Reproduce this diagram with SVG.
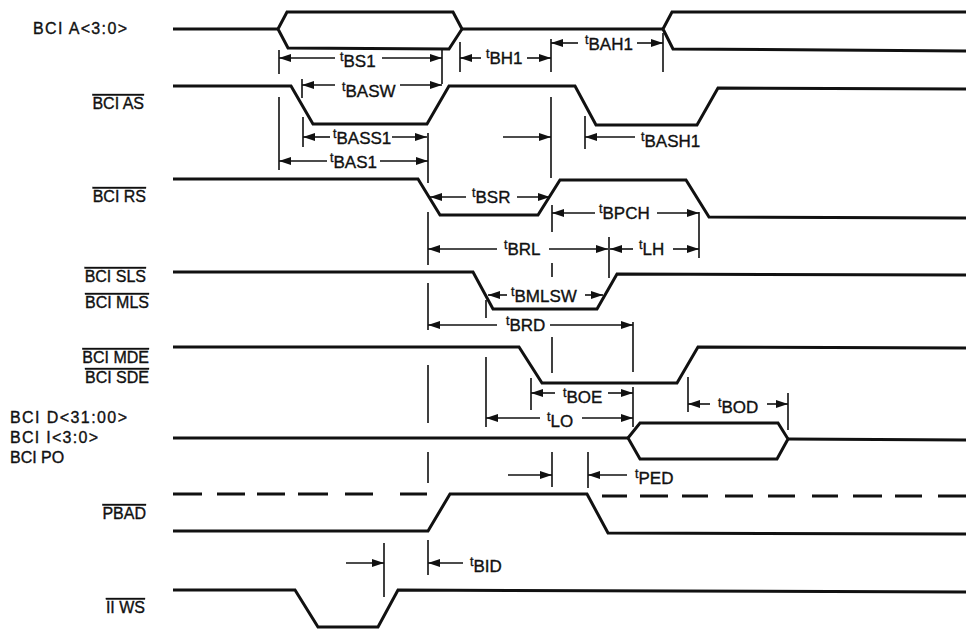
<svg xmlns="http://www.w3.org/2000/svg" width="966" height="629" viewBox="0 0 966 629">
<defs>
<style>
.sig{fill:none;stroke:#111;stroke-width:3;stroke-linejoin:miter}
.tk{stroke:#111;stroke-width:1.6;fill:none}
.dm{stroke:#111;stroke-width:1.6;fill:none;marker-end:url(#ah)}
.lbl{font-family:"Liberation Sans",Arial,sans-serif;font-size:16px;fill:#111;stroke:#111;stroke-width:0.35}
.ov{text-decoration:overline}
.tl{font-family:"Liberation Sans",Arial,sans-serif;font-size:17px;fill:#111;stroke:#111;stroke-width:0.35}
.t{font-size:12.5px}
</style>
<marker id="ah" viewBox="0 0 12 8" refX="12" refY="4" markerWidth="12" markerHeight="8" orient="auto" markerUnits="userSpaceOnUse">
<path d="M0,0 L12,4 L0,8 Z" fill="#111"/>
</marker>
</defs>
<rect width="966" height="629" fill="#fff"/>

<g id="sig-bci-a">
<text class="lbl" x="33" y="34" textLength="94" lengthAdjust="spacing">BCI A&lt;3:0&gt;</text>
<path class="sig" d="M173,29 H278 M462,29 H663"/>
<path class="sig" d="M278,29 L287,12 H453 L462,29 L449,49 L288,48 Z"/>
<path class="sig" d="M663,29 L672,12 H966 M663,29 L673,49 L966,51"/>
</g>

<g id="sig-bci-as">
<text class="lbl ov" x="144" y="109" text-anchor="end">BCI AS</text>
<path class="sig" d="M173,86 H291 L313,124 H427 L449,86 H575 L596,125 H697 L718,88 L966,89"/>
</g>

<g id="sig-bci-rs">
<text class="lbl ov" x="146" y="202" text-anchor="end">BCI RS</text>
<path class="sig" d="M173,179 H418 L440,215 H538 L560,180 H686 L709,217 L966,218"/>
</g>

<g id="sig-bci-sls">
<text class="lbl ov" x="146" y="282" text-anchor="end">BCI SLS</text>
<text class="lbl ov" x="149" y="308" text-anchor="end">BCI MLS</text>
<path class="sig" d="M173,272 H473 L493,309 H597 L617,274 L966,275"/>
</g>

<g id="sig-bci-mde">
<text class="lbl ov" x="149" y="363" text-anchor="end">BCI MDE</text>
<text class="lbl ov" x="149" y="383" text-anchor="end">BCI SDE</text>
<path class="sig" d="M173,347 H519 L542,383 H677 L698,347 L966,348"/>
</g>

<g id="sig-bci-d">
<text class="lbl" x="10" y="423" textLength="117" lengthAdjust="spacing">BCI D&lt;31:00&gt;</text>
<text class="lbl" x="10" y="443" textLength="88" lengthAdjust="spacing">BCI I&lt;3:0&gt;</text>
<text class="lbl" x="10" y="463">BCI PO</text>
<path class="sig" d="M173,438 H628 M788,439 L966,440"/>
<path class="sig" d="M628,438 L640,423 H778 L788,439 L777,459 H640 Z"/>
</g>

<g id="sig-pbad">
<text class="lbl ov" x="146" y="519" text-anchor="end">PBAD</text>
<path class="sig" d="M173,494 H202 M217,494 H245 M257,494 H285 M298,494 H328 M345,494 H373 M400,494 H427 M602,496 H627 M640,496 H668 M682,496 H708 M725,496 H753 M768,496 H795 M812,496 H838 M853,496 H882 M895,496 H922 M938,496 H966"/>
<path class="sig" d="M173,531 H428 L450,494 H587 L608,533 L966,534"/>
</g>

<g id="sig-ii-ws">
<text class="lbl ov" x="145" y="613" text-anchor="end">II WS</text>
<path class="sig" d="M173,590 H295 L318,627 H378 L398,590 L966,592"/>
</g>

<g id="connectors">
<path class="tk" d="M279,50 V74 M279,97 V170 M442,50 V84 M460,42 V72 M551,39 V72 M551,97 V178 M552,205 V232 M552,263 V277 M552,337 V373 M552,452 V487 M663,33 V72 M302,79 V98 M303,117 V147 M428,133 V183 M428,212 V265 M428,283 V330 M428,365 V423 M428,452 V483 M428,540 V575 M585,116 V149 M699,212 V258 M609,237 V278 M486,300 V318 M486,357 V427 M633,322 V372 M633,387 V427 M531,378 V410 M688,377 V412 M788,393 V430 M588,452 V488 M384,543 V597"/>
<path class="dm" d="M335,58 H279"/>
<path class="dm" d="M382,58 H442"/>
<path class="dm" d="M335,85 H302"/>
<path class="dm" d="M400,85 H442"/>
<path class="dm" d="M330,137 H303"/>
<path class="dm" d="M392,137 H427"/>
<path class="dm" d="M327,161 H279"/>
<path class="dm" d="M380,161 H428"/>
<path class="dm" d="M481,58 H460"/>
<path class="dm" d="M527,58 H551"/>
<path class="dm" d="M578,43 H551"/>
<path class="dm" d="M637,43 H663"/>
<path class="dm" d="M503,137 H551"/>
<path class="dm" d="M635,137 H585"/>
<path class="dm" d="M466,197 H430"/>
<path class="dm" d="M517,197 H550"/>
<path class="dm" d="M595,213 H552"/>
<path class="dm" d="M657,213 H699"/>
<path class="dm" d="M497,249 H428"/>
<path class="dm" d="M549,249 H608"/>
<path class="dm" d="M633,249 H610"/>
<path class="dm" d="M673,249 H699"/>
<path class="dm" d="M507,295 H488"/>
<path class="dm" d="M585,295 H603"/>
<path class="dm" d="M497,325 H428"/>
<path class="dm" d="M550,325 H633"/>
<path class="dm" d="M555,393 H531"/>
<path class="dm" d="M608,393 H633"/>
<path class="dm" d="M540,418 H486"/>
<path class="dm" d="M582,418 H633"/>
<path class="dm" d="M710,404 H688"/>
<path class="dm" d="M767,404 H788"/>
<path class="dm" d="M508,475 H552"/>
<path class="dm" d="M627,475 H588"/>
<path class="dm" d="M346,563 H384"/>
<path class="dm" d="M463,563 H428"/>
</g>

<g id="timing-labels">
<text class="tl" x="340" y="67"><tspan class="t" dy="-6">t</tspan><tspan dy="6">BS1</tspan></text>
<text class="tl" x="342" y="97"><tspan class="t" dy="-6">t</tspan><tspan dy="6">BASW</tspan></text>
<text class="tl" x="333" y="144"><tspan class="t" dy="-6">t</tspan><tspan dy="6">BASS1</tspan></text>
<text class="tl" x="330" y="168"><tspan class="t" dy="-6">t</tspan><tspan dy="6">BAS1</tspan></text>
<text class="tl" x="486" y="64"><tspan class="t" dy="-6">t</tspan><tspan dy="6">BH1</tspan></text>
<text class="tl" x="585" y="50"><tspan class="t" dy="-6">t</tspan><tspan dy="6">BAH1</tspan></text>
<text class="tl" x="641" y="147"><tspan class="t" dy="-6">t</tspan><tspan dy="6">BASH1</tspan></text>
<text class="tl" x="472" y="203"><tspan class="t" dy="-6">t</tspan><tspan dy="6">BSR</tspan></text>
<text class="tl" x="599" y="219"><tspan class="t" dy="-6">t</tspan><tspan dy="6">BPCH</tspan></text>
<text class="tl" x="504" y="255"><tspan class="t" dy="-6">t</tspan><tspan dy="6">BRL</tspan></text>
<text class="tl" x="639" y="255"><tspan class="t" dy="-6">t</tspan><tspan dy="6">LH</tspan></text>
<text class="tl" x="511" y="302"><tspan class="t" dy="-6">t</tspan><tspan dy="6">BMLSW</tspan></text>
<text class="tl" x="506" y="331"><tspan class="t" dy="-6">t</tspan><tspan dy="6">BRD</tspan></text>
<text class="tl" x="563" y="403"><tspan class="t" dy="-6">t</tspan><tspan dy="6">BOE</tspan></text>
<text class="tl" x="547" y="427"><tspan class="t" dy="-6">t</tspan><tspan dy="6">LO</tspan></text>
<text class="tl" x="718" y="413"><tspan class="t" dy="-6">t</tspan><tspan dy="6">BOD</tspan></text>
<text class="tl" x="635" y="484"><tspan class="t" dy="-6">t</tspan><tspan dy="6">PED</tspan></text>
<text class="tl" x="470" y="572"><tspan class="t" dy="-6">t</tspan><tspan dy="6">BID</tspan></text>
</g>
</svg>
